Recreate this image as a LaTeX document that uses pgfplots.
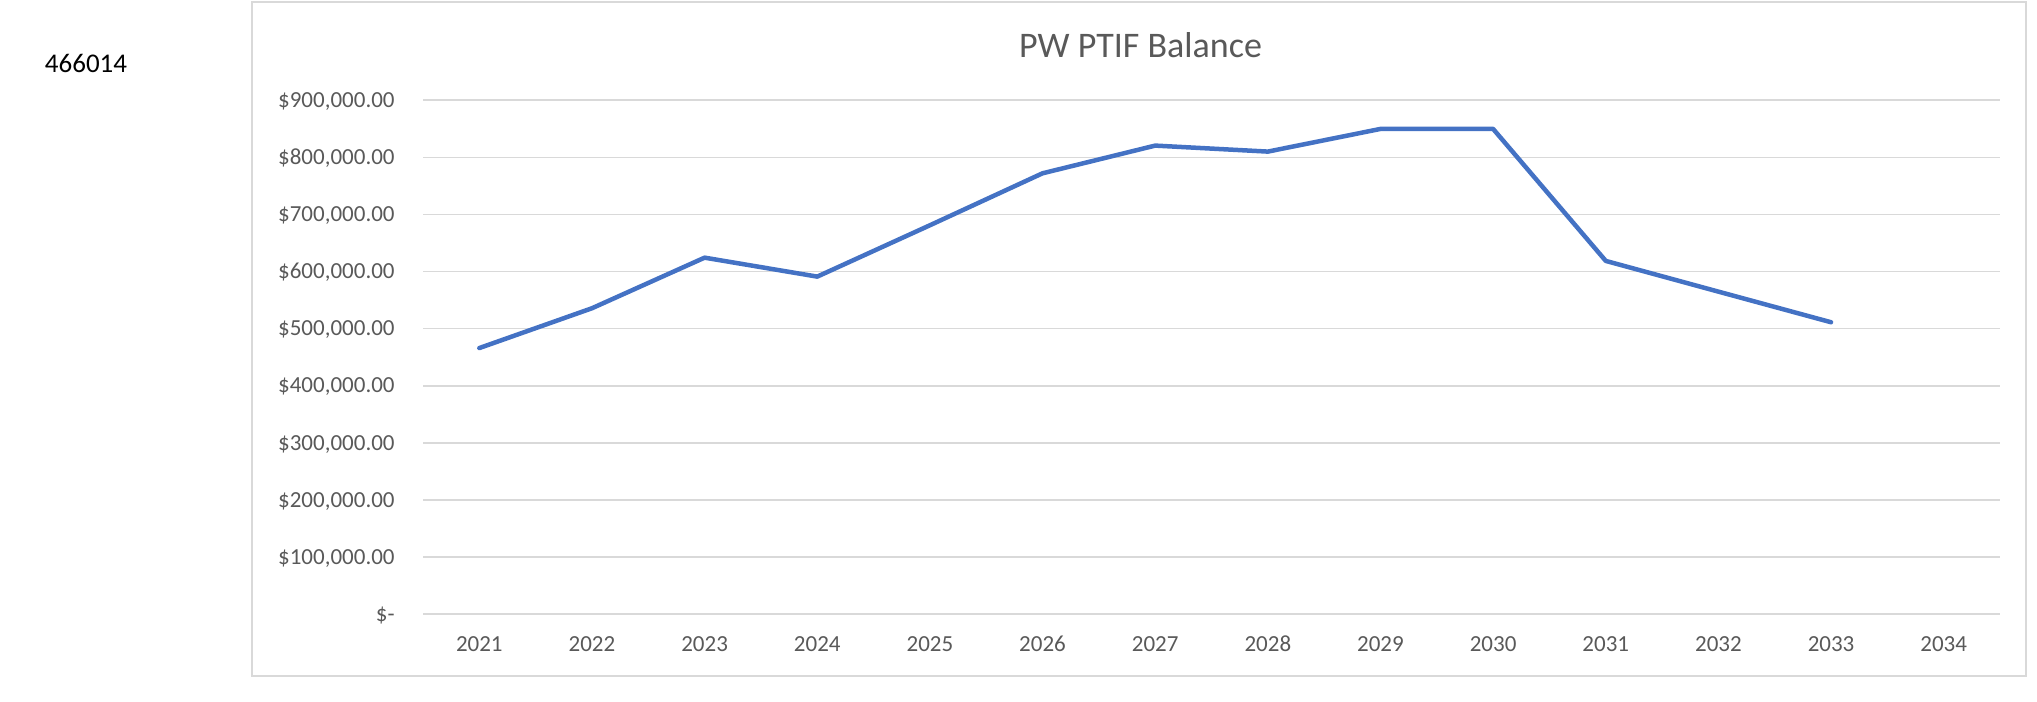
\documentclass[border=0pt]{standalone}
\usepackage{fontspec}
\setmainfont{Carlito}
\usepackage{pgfplots}
\pgfplotsset{compat=1.18}
\definecolor{linec}{HTML}{4472C4}
\definecolor{gridc}{HTML}{D9D9D9}
\definecolor{textc}{HTML}{595959}
\begin{document}
\begin{tikzpicture}
\path[use as bounding box] (0,0) rectangle (1018.5pt,350.5pt);
\draw[gridc, line width=0.75pt] (126pt,12.5pt) rectangle (1013pt,349.5pt);
\node[anchor=center, inner sep=0pt, font=\fontsize{13.5}{16}\selectfont, text=black] at (43pt,319pt) {466014};
\node[anchor=center, inner sep=0pt, font=\fontsize{18}{22}\selectfont, text=textc] at (570.25pt,328pt) {PW PTIF Balance};
\begin{axis}[
  at={(211.5pt,43.4pt)}, anchor=south west,
  scale only axis, width=788.5pt, height=257pt,
  xmin=-0.5, xmax=13.5, ymin=0, ymax=900000,
  xtick={0,...,13},
  xticklabels={2021,2022,2023,2024,2025,2026,2027,2028,2029,2030,2031,2032,2033,2034},
  ytick={0,100000,200000,300000,400000,500000,600000,700000,800000,900000},
  yticklabels={{\$-},{\$100,000.00},{\$200,000.00},{\$300,000.00},{\$400,000.00},{\$500,000.00},{\$600,000.00},{\$700,000.00},{\$800,000.00},{\$900,000.00}},
  scaled y ticks=false,
  axis line style={draw=none},
  major tick style={draw=none},
  ymajorgrids, grid style={gridc, line width=0.75pt},
  ticklabel style={font=\fontsize{11.5}{14}\selectfont, text=textc, inner sep=0pt},
  yticklabel style={anchor=base east, xshift=-14pt, yshift=-3.6pt},
  xticklabel style={anchor=center, yshift=-14.75pt},
  clip=false,
]
\addplot[linec, line width=2.25pt, line join=round, line cap=round] coordinates {
 (0,466014) (1,535700) (2,624300) (3,591100) (4,681000) (5,772000) (6,820500)
 (7,810000) (8,849700) (9,849700) (10,618600) (11,564800) (12,511200)
};
\end{axis}
\end{tikzpicture}
\end{document}
